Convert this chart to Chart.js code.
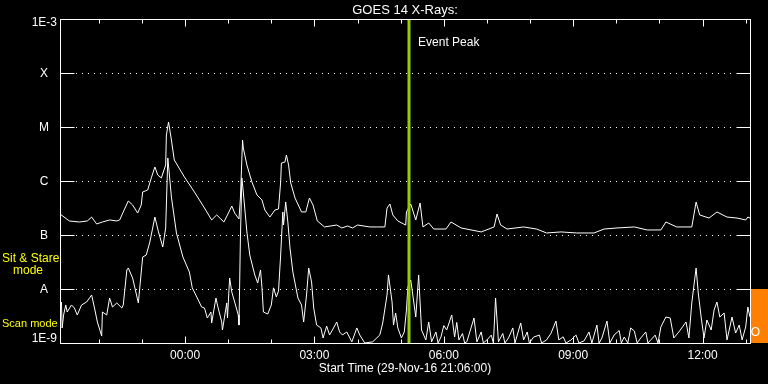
<!DOCTYPE html>
<html><head><meta charset="utf-8">
<script src="https://cdn.jsdelivr.net/npm/chart.js@4.4.0/dist/chart.umd.min.js"></script>
<style>html,body{margin:0;padding:0;background:#000;}#wrap{width:768px;height:384px;}</style>
</head><body><div id="wrap"><canvas id="c" width="768" height="384"></canvas></div>
<script>
const chartTitle = 'GOES 14 X-Rays:';
const startTimeLabel = 'Start Time (29-Nov-16 21:06:00)';
// time axis: minutes after 29-Nov-16 21:06:00
const hourTickMinutes = [54,114,174,234,294,354,414,474,534,594,654,714,774,834,894,954];
const xTickMinutes = [174,354,534,714,894];
const xTickLabels = ['00:00','03:00','06:00','09:00','12:00'];
const yTickValues = [1e-9,1e-8,1e-7,1e-6,1e-5,1e-4,1e-3];
const yTickLabels = ['1E-9','A','B','C','M','X','1E-3'];
const eventPeakMinute = 485;
const eventLabel = 'Event Peak';
const sitStareLabel = ['Sit & Stare','mode'];
const scanLabel = 'Scan mode';
const scanBand = [1e-9, 1e-8];

// 1-8 A channel (upper curve)
const longTime = [
0,13,27,38,44,51,59,69,79,83,
88,95,101,108,113,115,122,127,132,136,
141,147,148,151,155,159,173,187,201,211,
218,228,233,239,243,249,251,254,255,260,
267,274,281,285,292,299,304,307,308,313,
315,318,321,327,336,342,347,352,358,368,
385,392,400,407,414,431,442,452,455,459,
463,470,478,481,482,488,495,501,505,513,
520,537,544,558,586,604,608,613,622,645,
663,677,697,719,743,757,775,799,817,836,
843,858,879,885,890,903,914,928,942,954,
957,960];
const longFlux = [
2.45e-7,1.82e-7,1.74e-7,1.82e-7,2.15e-7,1.60e-7,1.74e-7,1.90e-7,1.82e-7,1.90e-7,
2.67e-7,4.26e-7,3.59e-7,2.55e-7,3.59e-7,6.26e-7,6.81e-7,1.14e-6,1.82e-6,1.29e-6,
1.14e-6,1.98e-6,7.11e-6,1.24e-5,5.74e-6,2.45e-6,1.19e-6,6.26e-7,3.16e-7,1.90e-7,
2.35e-7,1.74e-7,2.35e-7,3.44e-7,2.55e-7,1.98e-7,4.84e-7,5.74e-6,4.08e-6,1.98e-6,
9.58e-7,5.51e-7,4.45e-7,2.90e-7,2.15e-7,2.90e-7,3.03e-7,9.58e-7,2.15e-6,2.25e-6,
3.03e-6,1.98e-6,9.18e-7,4.84e-7,2.67e-7,2.67e-7,4.84e-7,3.59e-7,1.82e-7,1.41e-7,
1.53e-7,1.35e-7,1.47e-7,1.35e-7,1.53e-7,1.41e-7,1.41e-7,1.41e-7,3.16e-7,3.75e-7,
2.35e-7,1.82e-7,1.60e-7,1.53e-7,2.67e-7,3.75e-7,1.90e-7,3.91e-7,1.41e-7,1.67e-7,
1.29e-7,1.29e-7,1.74e-7,1.35e-7,1.14e-7,1.41e-7,2.45e-7,1.53e-7,1.29e-7,1.41e-7,
1.29e-7,1.09e-7,1.14e-7,1.09e-7,1.09e-7,1.29e-7,1.35e-7,1.41e-7,1.24e-7,1.24e-7,
1.74e-7,1.41e-7,1.41e-7,4.08e-7,2.35e-7,2.06e-7,2.67e-7,2.15e-7,2.06e-7,1.90e-7,
2.15e-7,2.06e-7];

// 0.5-4 A channel (lower curve)
const shortTime = [
2,3,5,8,10,16,20,24,30,37,
44,48,52,58,59,65,69,73,79,86,
88,93,95,101,109,115,120,125,132,137,
143,147,150,155,162,171,180,184,191,197,
201,205,210,211,217,219,225,226,232,233,
236,239,243,248,249,251,253,255,260,264,
271,275,279,281,283,289,294,297,301,304,
307,310,311,314,317,320,324,331,336,339,
343,346,350,353,357,363,366,371,375,379,
385,389,393,399,406,413,417,424,435,445,
449,455,457,462,464,467,470,475,479,482,
484,488,495,499,503,509,513,517,523,526,
530,534,538,545,549,552,555,560,563,566,
576,580,586,589,594,600,603,606,610,616,
619,624,630,633,641,645,650,653,659,667,
670,677,683,690,694,700,704,711,718,722,
729,736,740,747,750,754,761,765,771,778,
781,785,790,794,799,803,808,815,818,822,
828,832,836,843,849,854,861,871,875,879,
885,888,892,896,900,906,910,914,918,924,
928,935,940,945,949,954,957,960];
const shortFlux = [
5.74e-9,1.90e-9,3.30e-9,5.06e-9,3.75e-9,5.06e-9,4.45e-9,3.30e-9,5.06e-9,5.74e-9,
7.74e-9,4.45e-9,2.45e-9,1.35e-9,3.75e-9,3.30e-9,6.81e-9,4.64e-9,5.51e-9,4.45e-9,
5.06e-9,2.25e-8,2.45e-8,1.60e-8,5.51e-9,3.91e-8,4.26e-8,7.42e-8,2.15e-7,1.14e-7,
5.99e-8,1.35e-7,2.67e-6,5.06e-7,1.09e-7,3.91e-8,2.06e-8,1.05e-8,6.81e-9,4.64e-9,
4.45e-9,2.90e-9,3.75e-9,2.35e-9,6.81e-9,5.06e-9,2.45e-9,1.74e-9,5.51e-9,2.90e-9,
1.60e-8,8.80e-9,5.74e-9,3.30e-9,2.15e-9,8.80e-8,1.14e-6,6.26e-7,1.14e-7,4.26e-8,
1.82e-8,1.29e-8,2.25e-8,1.05e-8,3.75e-9,3.44e-9,5.06e-9,1.05e-8,7.11e-9,9.18e-9,
4.26e-8,2.67e-7,1.53e-7,4.08e-7,1.74e-7,5.74e-8,2.06e-8,6.81e-9,5.06e-9,2.45e-9,
7.74e-9,2.45e-8,1.35e-8,4.45e-9,2.15e-9,1.90e-9,1.24e-9,2.06e-9,1.41e-9,1.74e-9,
2.45e-9,1.60e-9,1.41e-9,1.60e-9,1.05e-9,1.90e-9,1.41e-9,1.00e-9,1.05e-9,1.41e-9,
2.35e-9,7.74e-9,1.82e-8,5.74e-9,2.15e-9,3.59e-9,1.90e-9,1.24e-9,1.60e-9,4.08e-9,
1.09e-8,1.47e-8,3.03e-9,1.82e-8,1.74e-9,1.14e-9,2.45e-9,1.05e-9,1.60e-9,1.00e-9,
1.29e-9,2.10e-9,1.74e-9,3.30e-9,1.29e-9,2.40e-9,1.14e-9,1.50e-9,1.00e-9,1.05e-9,
2.90e-9,1.05e-9,1.60e-9,1.00e-9,1.14e-9,1.40e-9,1.00e-9,6.81e-9,1.05e-9,1.50e-9,
1.00e-9,1.24e-9,1.90e-9,1.00e-9,2.35e-9,1.14e-9,1.60e-9,1.00e-9,1.29e-9,1.40e-9,
1.00e-9,1.14e-9,1.50e-9,2.55e-9,1.14e-9,1.30e-9,1.00e-9,1.14e-9,1.40e-9,1.00e-9,
1.09e-9,1.60e-9,1.00e-9,2.15e-9,1.00e-9,1.24e-9,2.55e-9,1.00e-9,1.41e-9,1.70e-9,
1.00e-9,1.29e-9,1.00e-9,1.90e-9,1.67e-9,1.00e-9,1.24e-9,1.60e-9,1.00e-9,1.14e-9,
1.40e-9,1.00e-9,1.98e-9,3.03e-9,2.90e-9,1.24e-9,1.60e-9,2.45e-9,1.24e-9,5.51e-9,
2.45e-8,8.43e-9,3.03e-9,1.24e-9,2.67e-9,1.74e-9,4.08e-9,5.74e-9,3.03e-9,3.59e-9,
1.14e-9,3.03e-9,1.53e-9,2.15e-9,1.14e-9,1.98e-9,4.64e-9,3.03e-9];

function zip(t, v){ const n=Math.min(t.length,v.length); const out=[]; for(let i=0;i<n;i++) out.push({x:t[i],y:v[i]}); return out; }

const FONT = '"Liberation Sans", Arial, sans-serif';
const deco = {
  id:'deco',
  beforeDraw(chart){
    const ctx=chart.ctx, a=chart.chartArea, y=chart.scales.y;
    ctx.save();
    ctx.fillStyle='#000'; ctx.fillRect(0,0,chart.width,chart.height);
    ctx.strokeStyle='#fff'; ctx.lineWidth=1; ctx.setLineDash([1,5]);
    for(let i=1;i<yTickValues.length-1;i++){
      const py=Math.round(y.getPixelForValue(yTickValues[i]))+0.5;
      ctx.beginPath(); ctx.moveTo(a.left+16,py); ctx.lineTo(a.right-15,py); ctx.stroke();
    }
    ctx.restore();
  },
  afterDatasetsDraw(chart){
    const ctx=chart.ctx, a=chart.chartArea, x=chart.scales.x;
    const px=x.getPixelForValue(eventPeakMinute);
    ctx.save();
    ctx.fillStyle='#99cc00';
    ctx.fillRect(Math.round(px)-1.5,a.top,3,a.bottom-a.top);
    ctx.fillStyle='#fff'; ctx.font='12px '+FONT; ctx.textAlign='left'; ctx.textBaseline='middle';
    ctx.fillText(eventLabel, px+9.5, 43);
    ctx.restore();
  },
  afterDraw(chart){
    const ctx=chart.ctx, a=chart.chartArea, x=chart.scales.x, y=chart.scales.y;
    ctx.save();
    // scan mode band
    ctx.fillStyle='#ff8000';
    const b1=y.getPixelForValue(scanBand[1]), b0=y.getPixelForValue(scanBand[0]);
    ctx.fillRect(a.right+1,b1,chart.width-a.right-1,b0-b1);
    ctx.strokeStyle='#fff'; ctx.lineWidth=1;
    const L=Math.round(a.left)+0.5, R=Math.round(a.right)+0.5, T=Math.round(a.top)+0.5, B=Math.round(a.bottom)+0.5;
    ctx.strokeRect(L,T,R-L,B-T);
    // y major ticks
    yTickValues.forEach(v=>{
      const py=Math.round(y.getPixelForValue(v))+0.5;
      ctx.beginPath(); ctx.moveTo(L,py); ctx.lineTo(L+14,py); ctx.moveTo(R,py); ctx.lineTo(R-14,py); ctx.stroke();
    });
    // x ticks
    hourTickMinutes.forEach(m=>{
      const px=Math.round(x.getPixelForValue(m))+0.5;
      const len = xTickMinutes.includes(m)?7:4;
      ctx.beginPath(); ctx.moveTo(px,T); ctx.lineTo(px,T+len); ctx.moveTo(px,B); ctx.lineTo(px,B-len); ctx.stroke();
    });
    ctx.fillStyle='#fff'; ctx.font='12px '+FONT; ctx.textBaseline='middle';
    // y labels
    yTickValues.forEach((v,i)=>{
      const py=y.getPixelForValue(v);
      const lab=yTickLabels[i];
      if(i===0){ ctx.textAlign='right'; ctx.fillText(lab,a.left-3,py-4); }
      else if(i===yTickValues.length-1){ ctx.textAlign='right'; ctx.fillText(lab,a.left-3,py+4); }
      else { ctx.textAlign='center'; ctx.fillText(lab,a.left-16,py+0.5); }
    });
    // x labels
    ctx.textAlign='center';
    xTickMinutes.forEach((m,i)=>{ ctx.fillText(xTickLabels[i], x.getPixelForValue(m), 356); });
    ctx.fillText(startTimeLabel,(a.left+a.right)/2,368.5);
    ctx.font='13px '+FONT;
    ctx.fillText(chartTitle,(a.left+a.right)/2,10);
    // mode labels
    ctx.fillStyle='#ffff00'; ctx.textAlign='left';
    ctx.font='12px '+FONT;
    ctx.fillText(sitStareLabel[0],2,258.5);
    ctx.fillText(sitStareLabel[1],13,271);
    ctx.font='11px '+FONT;
    ctx.fillText(scanLabel,2,323.5);
    ctx.fillStyle='#fff'; ctx.textAlign='center'; ctx.font='12px '+FONT;
    ctx.fillText('O',755.5,b0-10);
    ctx.restore();
  }
};

new Chart(document.getElementById('c'),{
  type:'line',
  data:{datasets:[
    {label:'1-8 A', data:zip(longTime,longFlux), borderColor:'#fff', borderWidth:1, pointRadius:0, tension:0, fill:false},
    {label:'0.5-4 A', data:zip(shortTime,shortFlux), borderColor:'#fff', borderWidth:1, pointRadius:0, tension:0, fill:false}
  ]},
  options:{
    responsive:false, animation:false, devicePixelRatio:1,
    layout:{padding:{left:60,right:18,top:19,bottom:41}},
    scales:{
      x:{type:'linear',min:0,max:960,display:false},
      y:{type:'logarithmic',min:1e-9,max:1e-3,display:false}
    },
    plugins:{legend:{display:false},tooltip:{enabled:false},title:{display:false}}
  },
  plugins:[deco]
});
</script></body></html>
